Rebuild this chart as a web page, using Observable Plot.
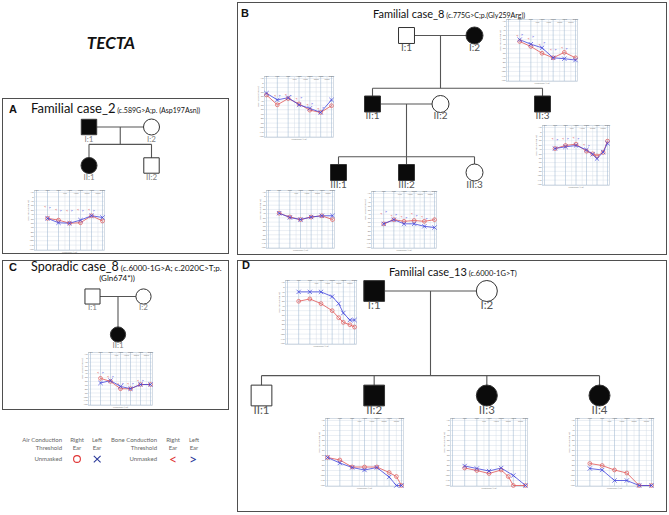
<!DOCTYPE html>
<html>
<head>
<meta charset="utf-8">
<script src="https://cdn.jsdelivr.net/npm/d3@7"></script>
<script src="https://cdn.jsdelivr.net/npm/@observablehq/plot@0.6"></script>
<style>
  html,body{margin:0;padding:0;background:#fff;}
  #page{position:relative;width:669px;height:515px;overflow:hidden;background:#fff;font-family:Lato,"Open Sans",sans-serif;}
  .box{position:absolute;box-sizing:border-box;border:1.5px solid #4f4f4f;}
  .layer{position:absolute;left:0;top:0;width:669px;height:515px;}
  .ag{position:absolute;}
  .ag svg,.layer svg{display:block;}
</style>
</head>
<body>
<div id="page"></div>
<script>
// ---------- shared audiogram axes ----------
const freqMajor = [125, 250, 500, 1000, 2000, 4000, 8000];
const freqMajorLabels = ["125", "250", "500", "1000", "2000", "4000", "8000"];
const freqMinor = [750, 1500, 3000, 6000];
const freqMinorLabels = ["750", "1500", "3000", "6000"];
const dbTicks = [-10, 0, 10, 20, 30, 40, 50, 60, 70, 80, 90, 100, 110, 120];

// ---------- audiogram data (dB HL) ----------
// Panel A, II:1
const A_II1_freq = [250, 500, 1000, 2000, 4000, 8000];
const A_II1_right = [49, 53, 60, 59, 43, 55];
const A_II1_left = [49, 59, 60, 53, 43, 47];
const A_II1_boneFreq = [250, 500, 1000, 2000, 4000];
const A_II1_boneRight = [23, 28, 31, 28, 28];
const A_II1_boneLeft = [25, 30, 32, 31, 30];
// Panel B, I:2
const B_I2_freq = [250, 500, 1000, 2000, 4000, 8000];
const B_I2_right = [34, 45, 60, 70, 58, 70];
const B_I2_left = [30, 40, 48, 70, 72, 75];
const B_I2_boneFreq = [250, 500, 1000, 2000, 4000];
const B_I2_boneRight = [20, 28, 40, 52, 48];
const B_I2_boneLeft = [19, 24, 37, 52, 50];
// Panel B, II:1
const B_II1_freq = [125, 250, 500, 1000, 2000, 4000, 8000];
const B_II1_right = [27, 49, 35, 47, 61, 66, 51];
const B_II1_left = [23, 38, 33, 49, 57, 66, 38];
const B_II1_boneFreq = [250, 500, 1000, 2000, 4000];
const B_II1_boneRight = [29, 27, 35, 48, 57];
const B_II1_boneLeft = [28, 28, 32, 47, 54];
// Panel B, II:3
const B_II3_freq = [250, 500, 1000, 2000, 3000, 4000, 6000, 8000];
const B_II3_right = [38, 31, 28, 44, 50, 55, 47, 21];
const B_II3_left = [38, 34, 31, 41, 51, 61, 46, 26];
const B_II3_boneFreq = [250, 500, 1000, 2000];
const B_II3_boneRight = [16, 15, 13, 28];
const B_II3_boneLeft = [17, 15, 15, 30];
// Panel B, III:1
const B_III1_freq = [250, 500, 1000, 2000, 4000, 8000];
const B_III1_right = [39, 48, 54, 48, 45, 54];
const B_III1_left = [39, 49, 54, 48, 45, 45];
// Panel B, III:2
const B_III2_freq = [250, 500, 1000, 2000, 4000, 8000];
const B_III2_right = [63, 53, 57, 55, 57, 53];
const B_III2_left = [63, 53, 63, 63, 69, 72];
const B_III2_boneFreq = [250, 500, 1000, 2000, 4000];
const B_III2_boneRight = [37, 43, 46, 37, 46];
const B_III2_boneLeft = [34, 41, 49, 43, 50];
// Panel C, II:1
const C_II1_freq = [250, 500, 1000, 2000, 4000, 8000];
const C_II1_right = [52, 60, 79, 79, 68, 68];
const C_II1_left = [64, 58, 73, 79, 68, 68];
const C_II1_boneFreq = [250, 500, 1000, 2000, 4000];
const C_II1_boneRight = [38, 47, 66, 66, 57];
const C_II1_boneLeft = [38, 47, 66, 66, 57];
// Panel D, I:1
const D_I1_freq = [250, 500, 1000, 2000, 3000, 4000, 6000, 8000];
const D_I1_right = [30, 25, 35, 50, 65, 75, 80, 85];
const D_I1_left = [10, 10, 10, 20, 35, 55, 70, 70];
// Panel D, II:2
const D_II2_freq = [125, 250, 500, 1000, 2000, 4000, 6000, 8000];
const D_II2_right = [64, 69, 83, 83, 83, 94, 102, 120];
const D_II2_left = [64, 75, 84, 89, 84, 103, 120, 120];
// Panel D, II:3
const D_II3_rightFreq = [250, 500, 1000, 2000, 3000, 4000, 8000];
const D_II3_right = [85, 90, 96, 89, 102, 120, 120];
const D_II3_leftFreq = [250, 500, 1000, 2000, 4000, 8000];
const D_II3_left = [81, 86, 91, 85, 100, 120];
// Panel D, II:4
const D_II4_freq = [250, 500, 1000, 2000, 4000, 8000];
const D_II4_right = [76, 80, 89, 95, 120, 120];
const D_II4_left = [86, 89, 110, 110, 120, 120];

// ---------- pedigree data ----------
const A_ids = ["I:1", "I:2", "II:1", "II:2"];
const A_sex = ["M", "F", "F", "M"];
const A_affected = [1, 0, 1, 0];
const A_generation = [1, 1, 2, 2];
const A_slot = [0, 1, 0, 1];
const A_unions = [["I:1", "I:2"]];
const A_offspring = [["II:1", "II:2"]];

const B_ids = ["I:1", "I:2", "II:1", "II:2", "II:3", "III:1", "III:2", "III:3"];
const B_sex = ["M", "F", "M", "F", "M", "M", "M", "F"];
const B_affected = [0, 1, 1, 0, 1, 1, 1, 0];
const B_generation = [1, 1, 2, 2, 2, 3, 3, 3];
const B_slot = [2, 4, 1, 3, 6, 0, 2, 4];
const B_unions = [["I:1", "I:2"], ["II:1", "II:2"]];
const B_offspring = [["II:1", "II:3"], ["III:1", "III:2", "III:3"]];

const C_ids = ["I:1", "I:2", "II:1"];
const C_sex = ["M", "F", "F"];
const C_affected = [0, 0, 1];
const C_generation = [1, 1, 2];
const C_slot = [0, 1, 0.5];
const C_unions = [["I:1", "I:2"]];
const C_offspring = [["II:1"]];

const D_ids = ["I:1", "I:2", "II:1", "II:2", "II:3", "II:4"];
const D_sex = ["M", "F", "M", "M", "F", "F"];
const D_affected = [1, 0, 0, 1, 1, 1];
const D_generation = [1, 1, 2, 2, 2, 2];
const D_slot = [1, 2, 0, 1, 2, 3];
const D_unions = [["I:1", "I:2"]];
const D_offspring = [["II:1", "II:2", "II:3", "II:4"]];

// ---------- layout (not data) ----------
const FONT = "Lato, 'Open Sans', sans-serif";
const RED = "#e05454", BLUE = "#3f43dc";
const page = document.getElementById("page");

const panelBoxes = [[2, 98, 227, 156], [237, 2, 430, 253], [2, 260, 227, 150], [237, 260, 430, 252]];
panelBoxes.forEach(([l, t, w, h]) => {
  const d = document.createElement("div");
  d.className = "box";
  Object.assign(d.style, {left: l + "px", top: t + "px", width: w + "px", height: h + "px"});
  page.appendChild(d);
});

function pedigree(ids, sex, aff, gen, slot, unions, offspring, L) {
  const people = ids.map((id, i) => ({id, sex: sex[i], aff: aff[i], gen: gen[i], slot: slot[i]}));
  const byId = new Map(people.map(p => [p.id, p]));
  const segs = [];
  unions.forEach((u, k) => {
    const a = byId.get(u[0]), b = byId.get(u[1]);
    segs.push({x1: a.slot, y1: a.gen, x2: b.slot, y2: b.gen});
    const mid = (a.slot + b.slot) / 2;
    const kids = offspring[k].map(id => byId.get(id));
    const cg = kids[0].gen;
    if (kids.length === 1 && kids[0].slot === mid) {
      segs.push({x1: mid, y1: a.gen, x2: mid, y2: cg});
    } else {
      const sy = cg - L.sibFrac;
      segs.push({x1: mid, y1: a.gen, x2: mid, y2: sy});
      const xs = kids.map(c => c.slot);
      segs.push({x1: d3.min(xs), y1: sy, x2: d3.max(xs), y2: sy});
      kids.forEach(c => segs.push({x1: c.slot, y1: sy, x2: c.slot, y2: c.gen}));
    }
  });
  const svg = Plot.plot({
    width: 669, height: 515, margin: 0,
    style: {background: "transparent", fontFamily: FONT, overflow: "visible"},
    x: {domain: L.xd, range: L.xr, axis: null},
    y: {domain: L.yd, range: L.yr, axis: null},
    marks: [
      Plot.link(segs, {x1: "x1", y1: "y1", x2: "x2", y2: "y2", stroke: "#555", strokeWidth: 1.1}),
      Plot.dot(people.filter(p => p.sex === "M"), {x: "slot", y: "gen", symbol: "square", r: L.rs,
        fill: d => d.aff ? "#0b0b0b" : "#ffffff", stroke: "#333", strokeWidth: 1}),
      Plot.dot(people.filter(p => p.sex === "F"), {x: "slot", y: "gen", symbol: "circle", r: L.rc,
        fill: d => d.aff ? "#0b0b0b" : "#ffffff", stroke: "#333", strokeWidth: 1}),
      Plot.text(people, {x: "slot", y: "gen", text: "id", dy: L.dy, fontSize: L.fs, fill: L.lc})
    ]
  });
  const wrap = document.createElement("div");
  wrap.className = "layer";
  wrap.appendChild(svg);
  page.appendChild(wrap);
}

pedigree(A_ids, A_sex, A_affected, A_generation, A_slot, A_unions, A_offspring,
  {xd: [0, 1], xr: [88.5, 151], yd: [1, 2], yr: [126.5, 165], sibFrac: 0.55, rs: 8.7, rc: 8, dy: 12, fs: 8, lc: "#808080"});
pedigree(B_ids, B_sex, B_affected, B_generation, B_slot, B_unions, B_offspring,
  {xd: [0, 6], xr: [338, 542], yd: [1, 3], yr: [35, 172], sibFrac: 0.23, rs: 9, rc: 8.5, dy: 12, fs: 10, lc: "#555"});
pedigree(C_ids, C_sex, C_affected, C_generation, C_slot, C_unions, C_offspring,
  {xd: [0, 1], xr: [92, 143], yd: [1, 2], yr: [296, 334], sibFrac: 0.5, rs: 8.5, rc: 7.6, dy: 10.5, fs: 8, lc: "#808080"});
pedigree(D_ids, D_sex, D_affected, D_generation, D_slot, D_unions, D_offspring,
  {xd: [0, 3], xr: [261, 599], yd: [1, 2], yr: [290.5, 395], sibFrac: 0.19, rs: 11.7, rc: 10.5, dy: 14.5, fs: 11.5, lc: "#555"});

function audiogram(a, [left, top, w, h]) {
  const R = a.rf.map((f, i) => ({f, db: a.r[i]}));
  const Lf = a.lf.map((f, i) => ({f, db: a.l[i]}));
  const BR = a.bf ? a.bf.map((f, i) => ({f, db: a.br[i]})) : [];
  const BL = a.bf ? a.bf.map((f, i) => ({f, db: a.bl[i]})) : [];
  const svg = Plot.plot({
    width: w, height: h,
    marginLeft: 9, marginRight: 2, marginTop: 4, marginBottom: 4,
    style: {background: "transparent", fontFamily: FONT, overflow: "visible"},
    x: {type: "log", domain: [125, 8000], insetLeft: 2, insetRight: 2, axis: null},
    y: {domain: [-10, 120], reverse: true, insetTop: 2, insetBottom: 1, axis: null},
    marks: [
      Plot.frame({fill: "#fff", stroke: "#b8c5d4", strokeWidth: 0.6}),
      Plot.ruleY(dbTicks, {stroke: "#d3dce6", strokeWidth: 0.45}),
      Plot.ruleX(freqMinor, {stroke: "#d3dce6", strokeWidth: 0.45}),
      Plot.ruleX(freqMajor, {stroke: "#9fb7d1", strokeWidth: 0.55}),
      Plot.text(freqMajor, {x: d => d, text: (d, i) => freqMajorLabels[i], frameAnchor: "top", dy: -1.4, fontSize: 2.3, fill: "#777"}),
      Plot.text(freqMinor, {x: d => d, text: (d, i) => freqMinorLabels[i], frameAnchor: "top", dy: 2.4, fontSize: 2.2, fill: "#888"}),
      Plot.text(dbTicks, {y: d => d, text: d => String(d), frameAnchor: "left", dx: -1, textAnchor: "end", fontSize: 2.3, fill: "#777"}),
      Plot.text(["Hearing Level (dB HL)"], {text: d => d, frameAnchor: "left", dx: -6.3, rotate: -90, fontSize: 2.2, fill: "#888"}),
      Plot.text(["Frequency (Hz)"], {text: d => d, frameAnchor: "bottom", dy: 2.4, fontSize: 2.3, fill: "#888"}),
      Plot.line(R, {x: "f", y: "db", stroke: RED, strokeWidth: 0.8}),
      Plot.line(Lf, {x: "f", y: "db", stroke: BLUE, strokeWidth: 0.8}),
      Plot.dot(R, {x: "f", y: "db", r: 1.9, stroke: RED, strokeWidth: 0.7, fill: "none"}),
      Plot.dot(Lf, {x: "f", y: "db", symbol: "times", r: 2.1, stroke: BLUE, strokeWidth: 0.7}),
      Plot.text(BR, {x: "f", y: "db", text: () => "<", dx: -2.3, fontSize: 4.6, fill: RED}),
      Plot.text(BL, {x: "f", y: "db", text: () => ">", dx: 2.3, fontSize: 4.6, fill: BLUE})
    ]
  });
  const wrap = document.createElement("div");
  wrap.className = "ag";
  Object.assign(wrap.style, {left: left + "px", top: top + "px", width: w + "px", height: h + "px"});
  wrap.appendChild(svg);
  page.appendChild(wrap);
}

audiogram({rf: A_II1_freq, r: A_II1_right, lf: A_II1_freq, l: A_II1_left, bf: A_II1_boneFreq, br: A_II1_boneRight, bl: A_II1_boneLeft}, [25, 186, 81, 68]);
audiogram({rf: B_I2_freq, r: B_I2_right, lf: B_I2_freq, l: B_I2_left, bf: B_I2_boneFreq, br: B_I2_boneRight, bl: B_I2_boneLeft}, [497, 15, 82, 70]);
audiogram({rf: B_II1_freq, r: B_II1_right, lf: B_II1_freq, l: B_II1_left, bf: B_II1_boneFreq, br: B_II1_boneRight, bl: B_II1_boneLeft}, [255, 72, 80, 69]);
audiogram({rf: B_II3_freq, r: B_II3_right, lf: B_II3_freq, l: B_II3_left, bf: B_II3_boneFreq, br: B_II3_boneRight, bl: B_II3_boneLeft}, [533, 121, 78, 68]);
audiogram({rf: B_III1_freq, r: B_III1_right, lf: B_III1_freq, l: B_III1_left}, [257, 186, 79, 66]);
audiogram({rf: B_III2_freq, r: B_III2_right, lf: B_III2_freq, l: B_III2_left, bf: B_III2_boneFreq, br: B_III2_boneRight, bl: B_III2_boneLeft}, [362, 187, 76, 65]);
audiogram({rf: C_II1_freq, r: C_II1_right, lf: C_II1_freq, l: C_II1_left, bf: C_II1_boneFreq, br: C_II1_boneRight, bl: C_II1_boneLeft}, [79, 348, 75, 61]);
audiogram({rf: D_I1_freq, r: D_I1_right, lf: D_I1_freq, l: D_I1_left}, [276, 276, 82, 72]);
audiogram({rf: D_II2_freq, r: D_II2_right, lf: D_II2_freq, l: D_II2_left}, [316, 414, 89, 76]);
audiogram({rf: D_II3_rightFreq, r: D_II3_right, lf: D_II3_leftFreq, l: D_II3_left}, [441, 414, 88, 76]);
audiogram({rf: D_II4_freq, r: D_II4_right, lf: D_II4_freq, l: D_II4_left}, [566, 414, 89, 76]);

// ---------- titles and legend (text layer) ----------
const tsvg = d3.select(page).append("div").attr("class", "layer")
  .append("svg").attr("width", 669).attr("height", 515).style("overflow", "visible")
  .style("font-family", FONT);

function title(x, y, big, small, bigSize, smallSize, anchor) {
  const t = tsvg.append("text").attr("x", x).attr("y", y).attr("fill", "#111")
    .attr("font-size", bigSize).attr("text-anchor", anchor || "start");
  if (big) t.append("tspan").text(big);
  if (small) t.append("tspan").attr("font-size", smallSize).text(small);
}
tsvg.append("text").attr("x", 111).attr("y", 49).attr("text-anchor", "middle")
  .attr("font-size", 17).attr("font-weight", "bold").attr("font-style", "italic").attr("fill", "#111").text("TECTA");

const letters = [["A", 9, 113], ["B", 241, 17], ["C", 9, 271], ["D", 242, 269]];
letters.forEach(([s, x, y]) => tsvg.append("text").attr("x", x).attr("y", y).attr("font-size", 11)
  .attr("font-weight", "bold").attr("font-family", "'Liberation Sans', Arial, sans-serif").attr("fill", "#111").text(s));

title(31, 113, "Familial case_2", " (c.589G>A;p. (Asp197Asn))", 13, 7);
title(373, 18, "Familial case_8", " (c.775G>C;p.(Gly259Arg))", 11, 7);
title(31, 271, "Sporadic case_8", " (c.6000-1G>A; c.2020C>T;p.", 12.5, 8);
title(117, 281, null, "(Gln674*))", 8, 8, "middle");
title(389, 276, "Familial case_13", " (c.6000-1G>T)", 11, 7.5);

// legend
const lg = tsvg.append("g").attr("font-size", 6).attr("fill", "#666");
const legendText = [
  ["Air Conduction", 62, 442, "end"], ["Threshold", 62, 450, "end"], ["Unmasked", 62, 461, "end"],
  ["Right", 77, 442, "middle"], ["Ear", 77, 450, "middle"], ["Left", 97, 442, "middle"], ["Ear", 97, 450, "middle"],
  ["Bone Conduction", 157, 442, "end"], ["Threshold", 157, 450, "end"], ["Unmasked", 157, 461, "end"],
  ["Right", 173, 442, "middle"], ["Ear", 173, 450, "middle"], ["Left", 194, 442, "middle"], ["Ear", 194, 450, "middle"]
];
legendText.forEach(([s, x, y, a]) => lg.append("text").attr("x", x).attr("y", y).attr("text-anchor", a).text(s));
tsvg.append("circle").attr("cx", 77).attr("cy", 459).attr("r", 3.4).attr("fill", "none").attr("stroke", "#e03434").attr("stroke-width", 1.1);
tsvg.append("path").attr("d", "M93.8,455.8L100.6,462.4M100.6,455.8L93.8,462.4").attr("stroke", "#2b3a9a").attr("stroke-width", 1.1);
tsvg.append("text").attr("x", 173).attr("y", 463.5).attr("text-anchor", "middle").attr("font-size", 14).attr("fill", "#e03434").text("<");
tsvg.append("text").attr("x", 193).attr("y", 463.5).attr("text-anchor", "middle").attr("font-size", 14).attr("fill", "#2b3a9a").text(">");
</script>
</body>
</html>
